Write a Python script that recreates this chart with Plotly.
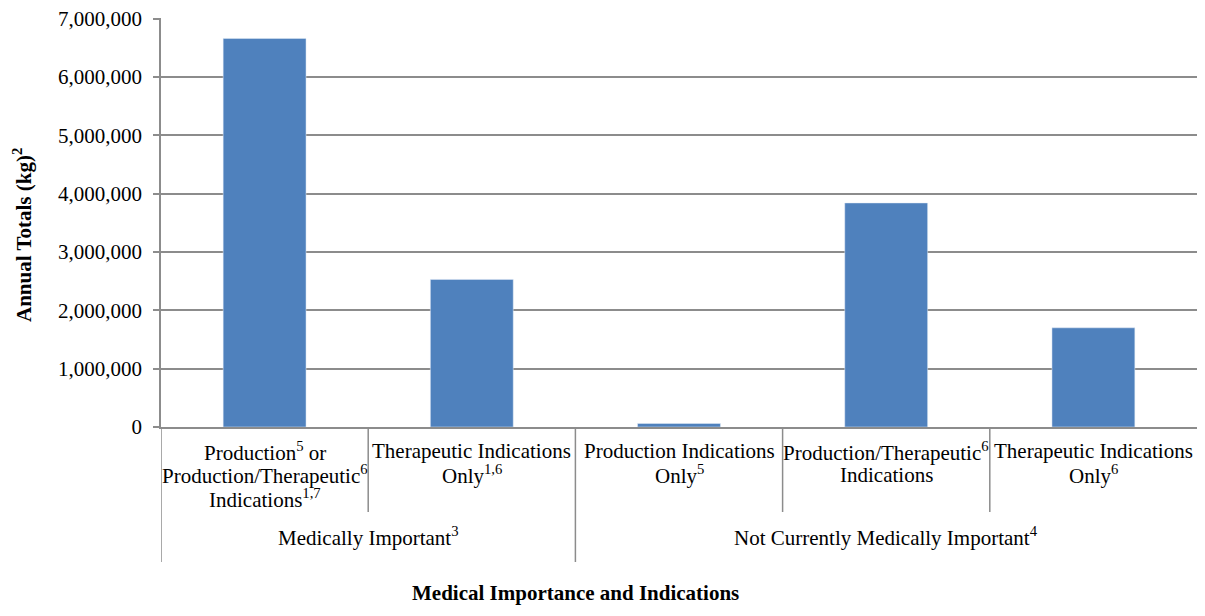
import plotly.graph_objects as go

# categories and values (kg)
groups = ["Medically Important<sup>3</sup>", "Not Currently Medically Important<sup>4</sup>"]
group_sizes = [2, 3]
categories = [
    ["Production<sup>5</sup> or", "Production/Therapeutic<sup>6</sup>", "Indications<sup>1,7</sup>"],
    ["Therapeutic Indications", "Only<sup>1,6</sup>"],
    ["Production Indications", "Only<sup>5</sup>"],
    ["Production/Therapeutic<sup>6</sup>", "Indications"],
    ["Therapeutic Indications", "Only<sup>6</sup>"],
]
totals = [6660000, 2530000, 60000, 3840000, 1700000]

font = "Liberation Serif"
grid = "#8c8c8c"
fs = 21

fig = go.Figure(go.Bar(
    x=list(range(len(totals))),
    y=totals,
    marker_color="#4F81BD",
    width=0.4,
))

# category labels, one annotation per line for tight line spacing
for i, lines in enumerate(categories):
    for j, line in enumerate(lines):
        fig.add_annotation(x=i, y=0, xref="x", yref="paper", text=line,
                           showarrow=False, yanchor="middle", yshift=-24 - 23.5 * j,
                           font=dict(family=font, size=fs, color="#000"))

# group labels and dividers (pixel offsets below the plot bottom)
ph = 409
start = 0
fig.add_shape(type="line", x0=-0.5, x1=-0.5, y0=0, y1=-135 / ph, xref="x", yref="paper",
              line=dict(color=grid, width=1.5))
for g, n in zip(groups, group_sizes):
    mid = start + (n - 1) / 2
    fig.add_annotation(x=mid, y=0, xref="x", yref="paper", text=g, yshift=-109,
                       showarrow=False, yanchor="middle",
                       font=dict(family=font, size=fs, color="#000"))
    for k in range(1, n):
        fig.add_shape(type="line", x0=start + k - 0.5, x1=start + k - 0.5, y0=0, y1=-85 / ph,
                      xref="x", yref="paper", line=dict(color=grid, width=1.5))
    end = start + n - 0.5
    if end < len(totals) - 0.5:
        fig.add_shape(type="line", x0=end, x1=end, y0=0, y1=-135 / ph, xref="x", yref="paper",
                      line=dict(color=grid, width=1.5))
    start += n

# axis titles
fig.add_annotation(x=-0.133, y=0.47, xref="paper", yref="paper", textangle=-90,
                   xanchor="center", yanchor="middle",
                   text="<b>Annual Totals (kg)<sup>2</sup></b>", showarrow=False,
                   font=dict(family=font, size=fs, color="#000"))
fig.add_annotation(x=1.5, y=0, xref="x", yref="paper", yshift=-166, yanchor="middle",
                   text="<b>Medical Importance and Indications</b>", showarrow=False,
                   font=dict(family=font, size=fs, color="#000"))

fig.update_layout(
    width=1189, height=600,
    margin=dict(l=153, r=0, t=10, b=181),
    plot_bgcolor="white", paper_bgcolor="white",
    showlegend=False,
    font=dict(family=font),
    xaxis=dict(range=[-0.5, 4.5], showticklabels=False, showgrid=False, zeroline=False,
               showline=True, linecolor=grid, linewidth=1.5, ticks="", automargin=False),
    yaxis=dict(range=[0, 7010000], tickvals=[i * 1000000 for i in range(8)],
               tickformat=",", showgrid=True, ticklabeloverflow="allow",
               ticklabelstandoff=7, automargin=False,
               gridcolor=grid, gridwidth=1.5, zeroline=False, showline=True,
               linecolor=grid, linewidth=1.5, ticks="outside", ticklen=6,
               tickcolor=grid, tickwidth=1.5,
               tickfont=dict(family=font, size=fs, color="#000")),
)

fig.write_html("out.html")
